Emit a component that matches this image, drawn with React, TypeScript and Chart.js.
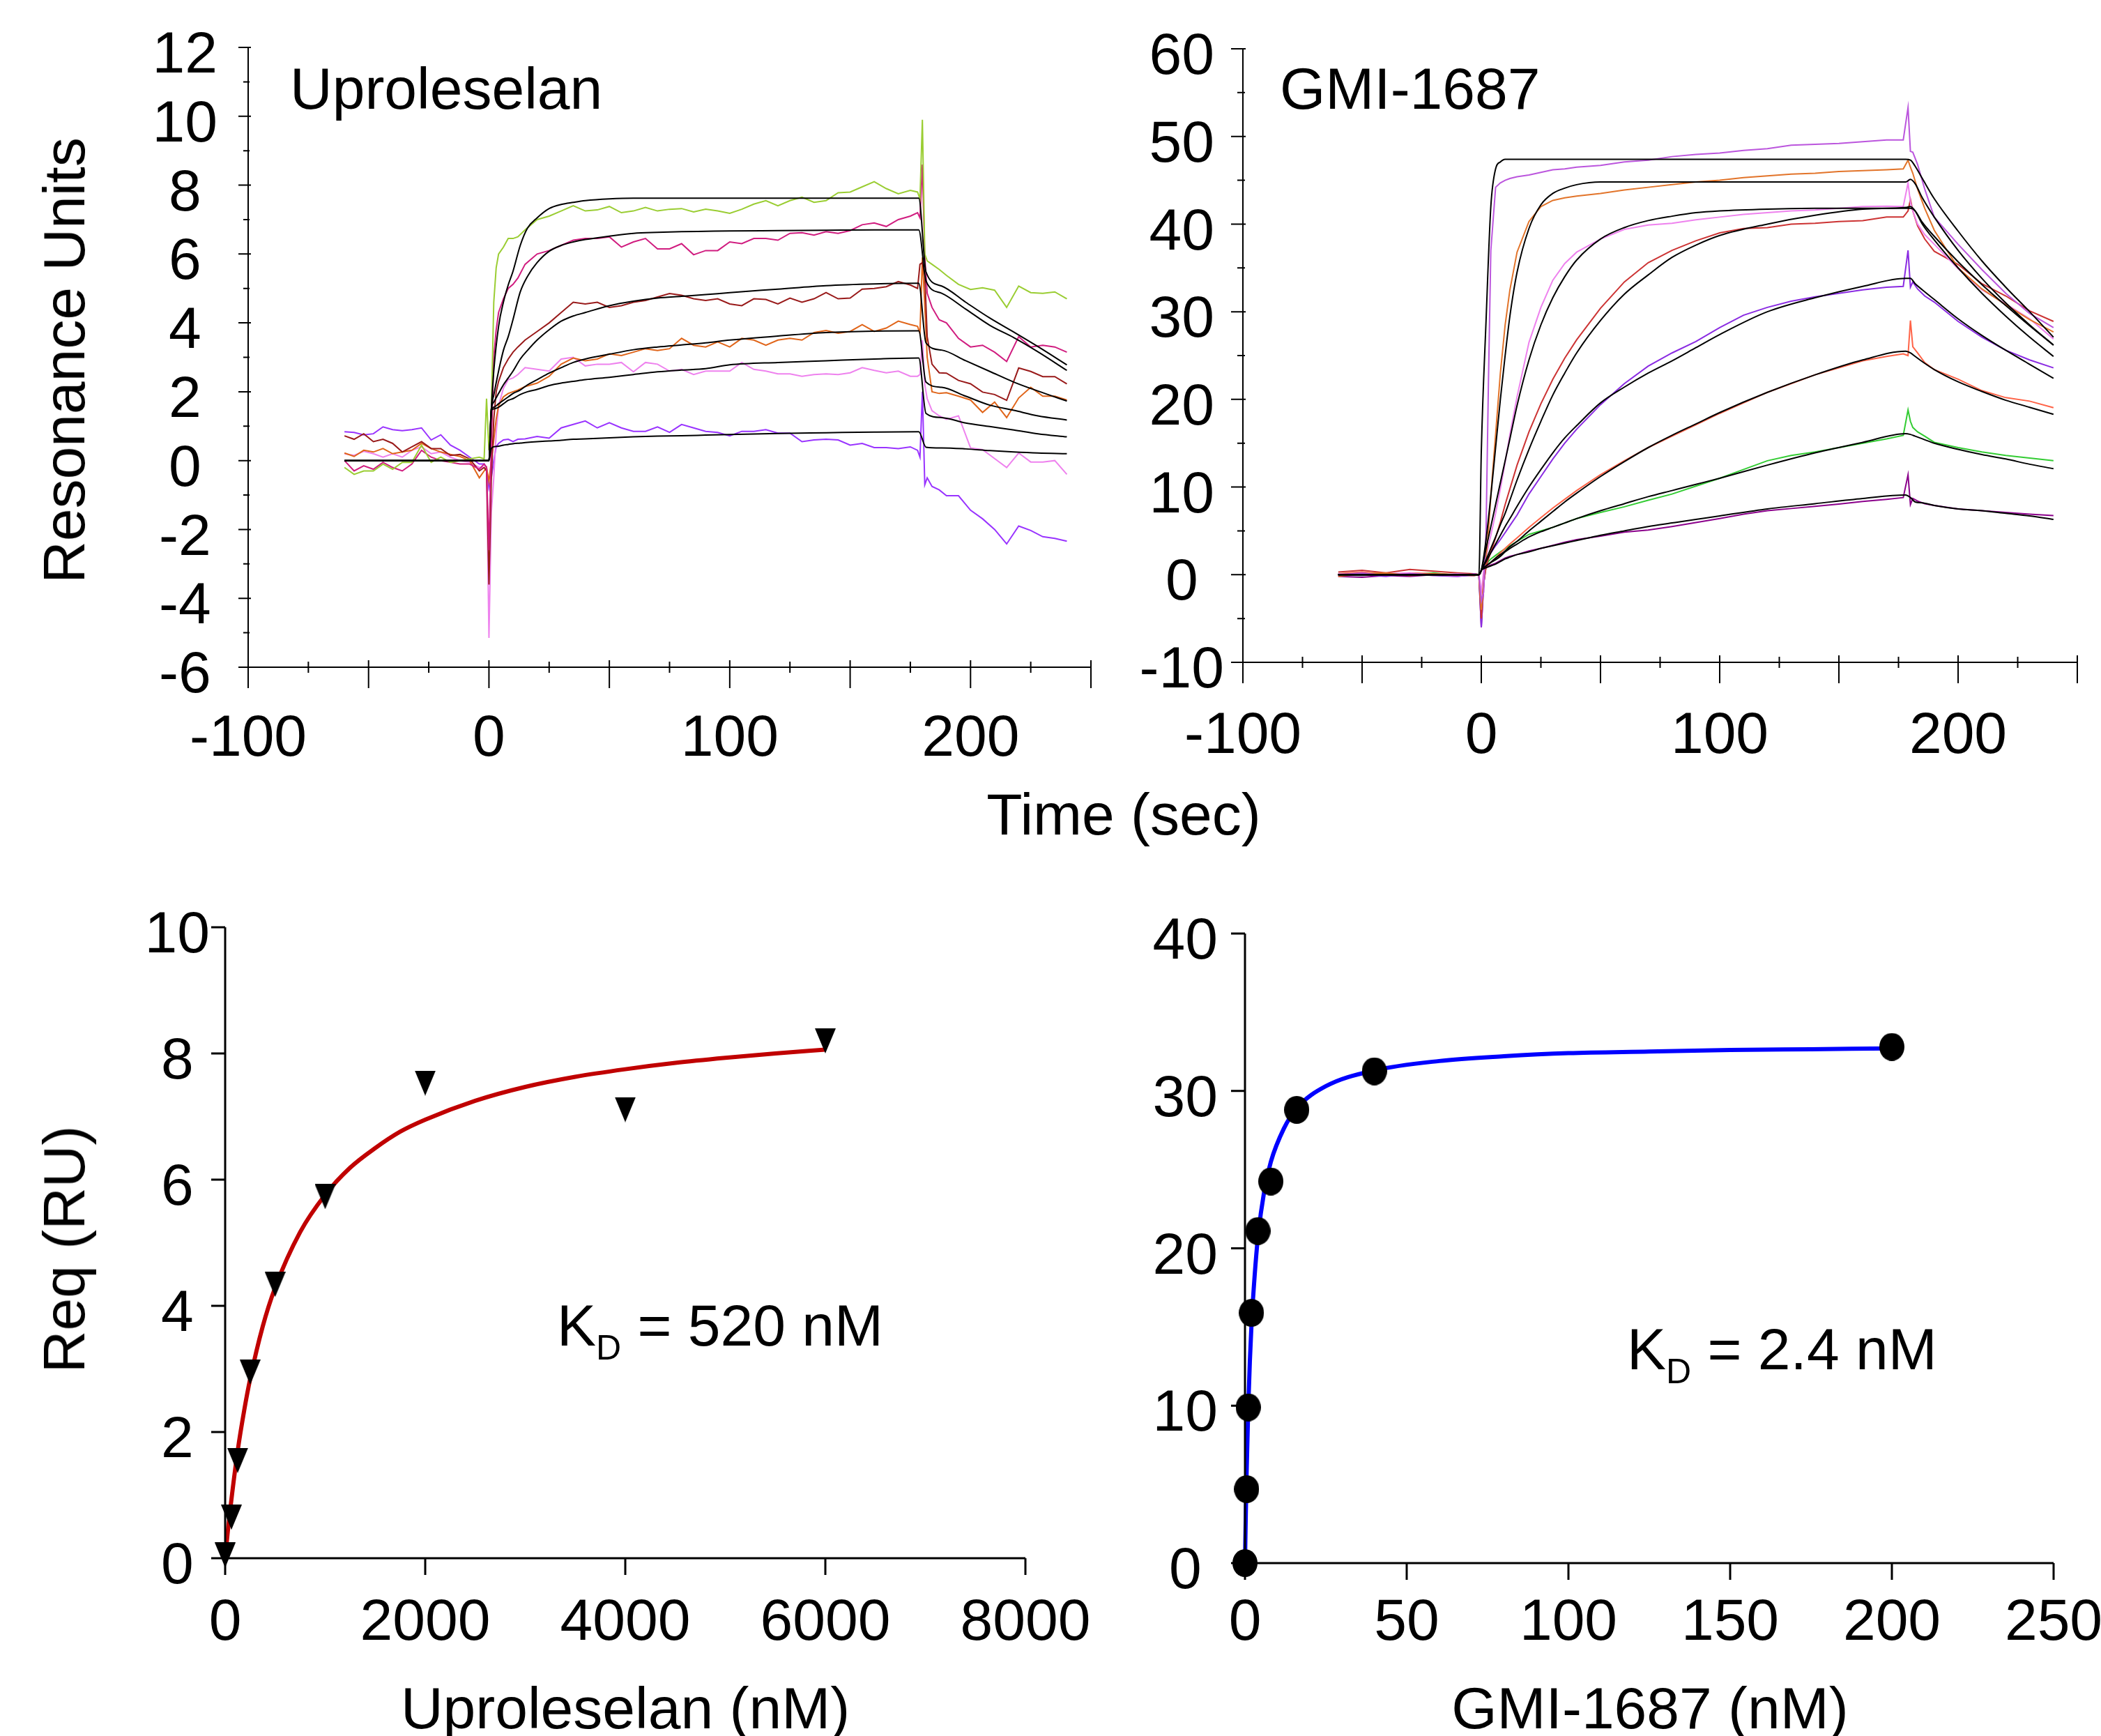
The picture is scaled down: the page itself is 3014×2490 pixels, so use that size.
import React, { useEffect, useRef } from 'react';
import { Chart, registerables } from 'chart.js';

Chart.register(...registerables);

const FONT = '"Liberation Sans", Arial, Helvetica, sans-serif';

// ---------------- Top-left: Uproleselan sensorgrams ----------------
const upTime = [-60, -56, -52, -48, -44, -40, -36, -32, -28, -24, -20, -16, -12, -8, -4,
  -2, -1, 0, 1, 2, 3, 4, 6, 8, 10, 12, 15,
  20, 25, 30, 35, 40, 45, 50, 55, 60, 65, 70, 75, 80, 85, 90, 95, 100, 105, 110, 115, 120, 125, 130, 135, 140, 145, 150, 155, 160, 165, 170, 175,
  178, 179, 180, 181, 182, 184, 187,
  190, 195, 200, 205, 210, 215, 220, 225, 230, 235, 240];

const upGreen = [-0.2, -0.4, -0.3, -0.3, -0.1, -0.25, -0.05, -0.05, 0.45, -0.05, 0.1, -0.05, 0.0, 0.05, 0.1,
  0.05, 1.8, 0.3, 1.5, 4.6, 5.6, 6.0, 6.2, 6.45, 6.45, 6.5, 6.7,
  7.0, 7.1, 7.25, 7.4, 7.25, 7.28, 7.38, 7.2, 7.25, 7.35, 7.25, 7.3, 7.32, 7.22, 7.3, 7.25, 7.18, 7.3, 7.45, 7.55, 7.4, 7.55, 7.65, 7.5, 7.55, 7.78, 7.8, 7.95, 8.1, 7.9, 7.75, 7.85,
  7.8, 7.6, 9.9, 6.0, 5.8, 5.7, 5.55,
  5.38, 5.12, 4.97, 5.02, 4.95, 4.45, 5.07, 4.88, 4.86, 4.9, 4.7];

const upMagenta = [0.0, -0.3, -0.15, -0.25, -0.05, -0.2, -0.3, -0.1, 0.3, 0.1, 0.0, -0.05, -0.1, -0.1, -0.25,
  -0.1, -0.2, -2.6, 0.5, 3.0, 3.8, 4.3, 4.7, 5.0, 5.12, 5.3, 5.7,
  6.0, 6.1, 6.25, 6.4, 6.45, 6.45, 6.5, 6.2, 6.35, 6.45, 6.15, 6.15, 6.3, 5.98, 6.1, 6.1, 6.35, 6.3, 6.45, 6.45, 6.4, 6.6, 6.62, 6.55, 6.65, 6.6, 6.68, 6.85, 6.9, 6.8, 7.0, 7.1,
  7.2, 7.05, 8.6, 5.9, 4.86, 4.45, 4.09,
  4.0, 3.55, 3.3, 3.35, 3.15, 2.88, 3.6, 3.3, 3.35, 3.3, 3.15];

const upDarkRed = [0.72, 0.62, 0.78, 0.55, 0.62, 0.5, 0.25, 0.4, 0.55, 0.35, 0.35, 0.15, 0.18, 0.05, -0.3,
  -0.2, -0.3, -3.6, -0.5, 1.2, 2.0, 2.3, 2.7, 2.95, 3.15, 3.3, 3.5,
  3.75, 4.0, 4.3, 4.6, 4.55, 4.6, 4.45, 4.5, 4.6, 4.65, 4.75, 4.85, 4.8, 4.7, 4.65, 4.7, 4.55, 4.5, 4.7, 4.68, 4.55, 4.72, 4.6, 4.7, 4.88, 4.7, 4.72, 4.98, 5.0, 5.05, 5.2, 5.1,
  5.0, 5.7, 5.75, 5.4, 3.6, 2.8, 2.55,
  2.54, 2.33, 2.23, 1.99, 1.92, 1.75, 2.69, 2.59, 2.44, 2.44, 2.23];

const upOrange = [0.22, 0.12, 0.3, 0.25, 0.35, 0.2, 0.25, 0.3, 0.5, 0.35, 0.25, 0.18, 0.12, 0.0, -0.5,
  -0.3, -0.2, -0.6, 0.0, 0.6, 1.2, 1.6, 1.85, 1.95, 2.0, 2.05, 2.15,
  2.25, 2.45, 2.8, 2.98, 2.9, 2.95, 3.1, 3.05, 3.15, 3.25, 3.2, 3.25, 3.55, 3.35, 3.3, 3.45, 3.3, 3.55, 3.5, 3.35, 3.5, 3.55, 3.5, 3.72, 3.78, 3.7, 3.75, 3.95, 3.75, 3.85, 4.05, 3.95,
  3.9, 3.7, 5.9, 4.5, 3.0, 2.0, 1.95,
  1.97, 1.87, 1.76, 1.4, 1.7, 1.25, 1.82, 2.13, 1.87, 1.87, 1.76];

const upPink = [0.2, 0.15, 0.27, 0.2, 0.1, 0.2, 0.1, 0.3, 0.4, 0.2, 0.25, 0.1, 0.0, -0.05, -0.2,
  -0.2, -0.3, -5.15, -1.5, -0.5, 0.8, 1.6, 2.1, 2.35, 2.4, 2.5, 2.7,
  2.65, 2.6, 2.95, 3.0, 2.75, 2.8, 2.8, 2.85, 2.58, 2.85, 2.8, 2.6, 2.65, 2.5, 2.6, 2.6, 2.6, 2.85, 2.65, 2.6, 2.52, 2.52, 2.45, 2.5, 2.52, 2.5, 2.55, 2.7, 2.62, 2.55, 2.6, 2.45,
  2.45, 2.5, 3.5, 2.2, 1.8, 1.45, 1.3,
  1.2, 1.3, 0.37, 0.32, 0.06, -0.2, 0.22, -0.04, -0.04, 0.0, -0.4];

const upPurple = [0.84, 0.82, 0.75, 0.78, 0.98, 0.9, 0.87, 0.9, 0.95, 0.6, 0.75, 0.45, 0.3, 0.1, -0.1,
  -0.1, -0.2, -0.8, -0.5, 0.0, 0.4, 0.5, 0.6, 0.62, 0.55, 0.62, 0.63,
  0.7, 0.65, 0.95, 1.05, 1.15, 0.95, 1.1, 0.95, 0.85, 0.85, 0.98, 0.82, 1.05, 0.95, 0.85, 0.82, 0.72, 0.85, 0.85, 0.9, 0.8, 0.8, 0.55, 0.6, 0.62, 0.6, 0.45, 0.5, 0.38, 0.38, 0.35, 0.4,
  0.3, 0.1, 2.0, -0.7, -0.5, -0.75, -0.85,
  -1.02, -1.02, -1.44, -1.69, -2.0, -2.42, -1.9, -2.03, -2.21, -2.26, -2.34];

const upFitTime = [-60, 0, 1, 2, 4, 6, 8, 10, 13, 16, 20, 25, 30, 35, 40, 50, 60, 70, 80, 90, 100, 120, 140, 160, 178.5, 181.5, 188, 198, 208, 218, 228, 240];
const upFit1 = [0, 0, 1.5, 2.6, 3.9, 4.6, 5.1, 5.5, 6.25, 6.75, 7.05, 7.32, 7.44, 7.5, 7.55, 7.6, 7.62, 7.62, 7.62, 7.62, 7.62, 7.62, 7.62, 7.62, 7.62, 5.48, 5.07, 4.6, 4.14, 3.73, 3.31, 2.78];
const upFit2 = [0, 0, 1.5, 1.9, 2.6, 3.2, 3.6, 4.1, 4.9, 5.35, 5.75, 6.08, 6.25, 6.35, 6.42, 6.52, 6.6, 6.63, 6.65, 6.66, 6.67, 6.68, 6.69, 6.7, 6.7, 5.22, 4.86, 4.4, 3.93, 3.57, 3.16, 2.62];
const upFit3 = [0, 0, 1.5, 1.7, 1.95, 2.2, 2.4, 2.6, 2.95, 3.2, 3.5, 3.8, 4.05, 4.2, 4.3, 4.5, 4.63, 4.72, 4.77, 4.82, 4.88, 4.98, 5.08, 5.13, 5.15, 3.42, 3.21, 2.9, 2.59, 2.28, 2.02, 1.73];
const upFit4 = [0, 0, 1.5, 1.55, 1.65, 1.75, 1.85, 1.95, 2.05, 2.2, 2.35, 2.54, 2.7, 2.85, 2.95, 3.09, 3.22, 3.3, 3.36, 3.42, 3.5, 3.62, 3.72, 3.76, 3.77, 2.28, 2.13, 1.87, 1.61, 1.46, 1.3, 1.18];
const upFit5 = [0, 0, 1.45, 1.5, 1.55, 1.65, 1.75, 1.8, 1.92, 2.0, 2.07, 2.18, 2.25, 2.3, 2.35, 2.42, 2.5, 2.58, 2.63, 2.67, 2.78, 2.85, 2.9, 2.95, 2.98, 1.37, 1.25, 1.09, 0.99, 0.89, 0.78, 0.69];
const upFit6 = [0, 0, 0.35, 0.4, 0.42, 0.45, 0.47, 0.49, 0.51, 0.53, 0.55, 0.57, 0.59, 0.62, 0.63, 0.66, 0.69, 0.71, 0.72, 0.74, 0.76, 0.79, 0.81, 0.83, 0.84, 0.39, 0.37, 0.34, 0.29, 0.25, 0.22, 0.2];

const upSeries = [upGreen, upMagenta, upDarkRed, upOrange, upPink, upPurple];
const upFits = [upFit1, upFit2, upFit3, upFit4, upFit5, upFit6];
const upColors = ['#9ACD32', '#D01C7F', '#991A1A', '#E0651A', '#EE82EE', '#9933FF'];

// ---------------- Top-right: GMI-1687 sensorgrams ----------------
const gmTime = [-60, -50, -40, -30, -20, -10, -3, -1, 0, 1,
  2, 3, 4, 6, 8, 10, 12, 15, 20, 25, 30, 35, 40,
  50, 60, 70, 80, 90, 100, 110, 120, 130, 140, 150, 160, 170,
  177, 179, 180, 181, 183, 186, 190, 200, 210, 220, 230, 240];

const gmOrchid = [0.0, 0.2, -0.1, 0.1, 0.0, -0.2, 0.1, 0.0, -3.0, -2.0,
  5.0, 22.0, 37.0, 44.2, 44.7, 45.0, 45.2, 45.4, 45.6, 45.9, 46.2, 46.3, 46.5,
  46.7, 47.1, 47.3, 47.7, 47.95, 48.1, 48.4, 48.6, 49.0, 49.1, 49.2, 49.4, 49.6,
  49.6, 53.3, 48.3, 48.2, 46.8, 44.0, 40.8, 37.7, 34.8, 32.1, 29.8, 28.2];
const gmOrange = [-0.2, 0.1, 0.2, -0.1, 0.1, 0.0, -0.1, 0.0, -4.0, -1.0,
  2.0, 5.0, 9.0, 16.0, 23.0, 28.5, 32.5, 36.8, 40.3, 42.0, 42.7, 43.0, 43.2,
  43.5, 43.9, 44.2, 44.5, 44.8, 45.0, 45.3, 45.5, 45.7, 45.8, 46.0, 46.1, 46.2,
  46.3, 47.3, 46.5, 45.8, 44.0, 41.8, 39.3, 35.0, 32.6, 30.8, 29.1, 27.7];
const gmViolet = [0.1, -0.1, 0.1, 0.2, -0.1, 0.1, 0.0, 0.0, -2.0, 0.5,
  2.0, 3.3, 4.5, 7.0, 9.8, 12.8, 16.0, 20.3, 26.5, 30.5, 33.6, 35.5, 36.8,
  38.3, 39.4, 39.9, 40.1, 40.5, 40.8, 41.1, 41.3, 41.5, 41.6, 41.8, 42.0, 42.05,
  42.0, 44.7, 42.5, 41.5, 40.0, 38.8, 37.7, 34.9, 32.5, 30.9, 29.2, 26.9];
const gmRed = [0.3, 0.5, 0.2, 0.6, 0.4, 0.2, 0.1, 0.0, -5.0, -1.0,
  1.0, 1.8, 2.6, 4.2, 6.0, 8.0, 9.8, 12.5, 16.3, 19.5, 22.3, 24.7, 26.8,
  30.4, 33.4, 35.6, 37.0, 38.1, 39.0, 39.5, 39.6, 40.0, 40.1, 40.3, 40.4, 40.8,
  40.8, 41.5, 42.8, 41.5, 39.8, 38.3, 36.9, 35.4, 33.2, 31.8, 30.1, 28.9];
const gmBlueViolet = [-0.1, 0.0, -0.2, 0.1, -0.1, -0.2, 0.0, 0.0, -6.0, -1.0,
  1.5, 2.0, 2.5, 3.3, 4.0, 4.8, 5.6, 6.8, 9.2, 11.2, 13.2, 15.0, 16.6,
  19.4, 21.8, 23.8, 25.3, 26.6, 28.2, 29.6, 30.5, 31.2, 31.7, 32.1, 32.5, 32.8,
  32.9, 37.0, 32.8, 33.4, 32.6, 31.8, 31.1, 28.9, 27.1, 25.6, 24.5, 23.6];
const gmTomato = [0.1, 0.3, 0.0, 0.2, 0.1, 0.0, 0.1, 0.0, -4.0, -0.5,
  0.9, 1.2, 1.4, 1.9, 2.5, 3.0, 3.5, 4.2, 5.4, 6.5, 7.6, 8.6, 9.6,
  11.4, 13.0, 14.5, 15.8, 17.1, 18.4, 19.6, 20.8, 21.8, 22.8, 23.6, 24.4, 24.9,
  25.2, 25.0, 29.0, 26.0, 25.3, 24.2, 23.4, 22.3, 21.0, 20.2, 19.8, 19.05];
const gmGreen = [0.0, -0.1, 0.1, 0.0, 0.2, -0.1, 0.0, 0.0, -5.0, -0.5,
  1.2, 1.5, 1.8, 2.2, 2.6, 2.95, 3.3, 3.8, 4.6, 5.0, 5.4, 5.9, 6.4,
  7.1, 7.75, 8.5, 9.2, 10.1, 11.0, 12.0, 13.0, 13.6, 14.0, 14.5, 15.0, 15.5,
  15.9, 18.8, 17.5, 16.8, 16.3, 15.8, 15.1, 14.5, 14.0, 13.6, 13.3, 13.0];
const gmDarkMagenta = [-0.2, -0.3, -0.1, -0.2, 0.0, -0.1, -0.1, 0.0, -6.0, -1.0,
  0.9, 1.0, 1.1, 1.3, 1.6, 1.9, 2.1, 2.3, 2.7, 3.0, 3.35, 3.7, 4.0,
  4.4, 4.85, 5.1, 5.5, 5.95, 6.4, 6.9, 7.3, 7.55, 7.8, 8.05, 8.35, 8.6,
  8.8, 11.4, 8.0, 8.7, 8.4, 8.1, 7.9, 7.5, 7.3, 7.1, 6.9, 6.75];

const gmFitTime = [-60, -1, 0, 2, 4, 6, 8, 10, 12, 15, 20, 25, 30, 35, 40, 50, 60, 70, 80, 90, 100, 120, 140, 160, 178, 180, 182, 185, 190, 200, 210, 220, 230, 240];
const gmFit1 = [0, 0, 14, 29, 42, 46.3, 47.1, 47.4, 47.4, 47.4, 47.4, 47.4, 47.4, 47.4, 47.4, 47.4, 47.4, 47.4, 47.4, 47.4, 47.4, 47.4, 47.4, 47.4, 47.4, 47.3, 46.6, 45.2, 42.9, 39.2, 35.8, 32.8, 30.0, 27.1];
const gmFit2 = [0, 0, 0.5, 4, 9, 14.5, 20, 25, 29.5, 34.5, 39.5, 42.2, 43.5, 44.1, 44.5, 44.8, 44.8, 44.8, 44.8, 44.8, 44.8, 44.8, 44.8, 44.8, 44.8, 45.1, 44.6, 43.0, 40.8, 37.0, 33.8, 31.0, 28.5, 26.2];
const gmFit3 = [0, 0, 0.5, 3.0, 5.5, 8.0, 10.5, 13.0, 15.5, 19.3, 24.5, 28.5, 31.6, 34.0, 35.9, 38.3, 39.6, 40.4, 40.9, 41.3, 41.5, 41.7, 41.8, 41.8, 41.8, 41.8, 41.5, 40.2, 38.6, 35.7, 33.1, 30.7, 28.4, 26.2];
const gmFit4 = [0, 0, 0.5, 1.7, 3.0, 4.3, 5.7, 7.0, 8.5, 10.8, 14.3, 17.5, 20.5, 23.0, 25.3, 29.0, 32.0, 34.2, 36.2, 37.6, 38.7, 40.0, 41.0, 41.7, 41.9, 42.0, 41.5, 40.0, 38.2, 35.0, 32.1, 29.5, 27.1, 24.9];
const gmFit5 = [0, 0, 0.5, 1.5, 2.5, 3.5, 4.5, 5.5, 6.4, 7.8, 10.0, 12.0, 13.9, 15.6, 17.0, 19.6, 21.4, 23.0, 24.4, 25.9, 27.4, 30.0, 31.6, 32.9, 33.8, 33.8, 33.2, 32.5, 31.4, 29.2, 27.3, 25.6, 24.0, 22.4];
const gmFit6 = [0, 0, 0.5, 1.0, 1.4, 1.9, 2.3, 2.7, 3.2, 3.8, 5.0, 6.1, 7.2, 8.3, 9.3, 11.2, 12.9, 14.5, 15.9, 17.2, 18.5, 20.8, 22.8, 24.5, 25.5, 25.3, 24.9, 24.3, 23.4, 22.0, 20.9, 19.9, 19.1, 18.3];
const gmFit7 = [0, 0, 0.5, 1.0, 1.4, 1.7, 2.1, 2.6, 3.0, 3.5, 4.3, 4.9, 5.4, 5.9, 6.4, 7.3, 8.1, 8.9, 9.6, 10.3, 11.0, 12.5, 13.9, 15.1, 16.1, 16.0, 15.8, 15.5, 15.0, 14.3, 13.7, 13.2, 12.6, 12.1];
const gmFit8 = [0, 0, 0.5, 0.8, 1.0, 1.2, 1.5, 1.8, 2.0, 2.3, 2.6, 3.0, 3.3, 3.6, 3.9, 4.5, 5.0, 5.5, 5.9, 6.3, 6.7, 7.5, 8.1, 8.7, 9.1, 8.8, 8.3, 8.2, 7.9, 7.5, 7.3, 7.0, 6.7, 6.3];

const gmSeries = [gmOrchid, gmOrange, gmViolet, gmRed, gmBlueViolet, gmTomato, gmGreen, gmDarkMagenta];
const gmFits = [gmFit1, gmFit2, gmFit3, gmFit4, gmFit5, gmFit6, gmFit7, gmFit8];
const gmColors = ['#BB55DD', '#E2742A', '#EE82EE', '#CC3333', '#8A2BE2', '#FF6347', '#33CC33', '#8B008B'];

// ---------------- Bottom-left: Uproleselan steady state ----------------
const upConc = [0, 62.5, 125, 250, 500, 1000, 2000, 4000, 6000];
const upReq = [0.05, 0.65, 1.55, 2.95, 4.34, 5.73, 7.53, 7.11, 8.2];
const upCurveConc = [0, 30, 62.5, 125, 190, 250, 375, 500, 750, 1000, 1250, 1500, 1750, 2000, 2500, 3000, 3500, 4000, 4500, 5000, 5500, 6000];
const upCurveReq = [0, 0.48, 0.93, 1.7, 2.34, 2.84, 3.67, 4.29, 5.17, 5.76, 6.19, 6.5, 6.76, 6.95, 7.25, 7.47, 7.63, 7.75, 7.85, 7.93, 8.0, 8.06];

// ---------------- Bottom-right: GMI-1687 steady state ----------------
const gmConc = [0, 0.5, 1, 2, 4, 8, 16, 40, 200];
const gmReq = [0, 4.7, 9.9, 15.9, 21.1, 24.25, 28.8, 31.25, 32.8];
const gmCurveConc = [0, 0.25, 0.5, 1, 1.5, 2, 3, 4, 6, 8, 12, 16, 25, 40, 60, 80, 100, 125, 150, 175, 200];
const gmCurveReq = [0, 3.1, 5.7, 9.8, 12.8, 15.1, 18.3, 20.7, 23.7, 25.5, 27.6, 28.9, 30.3, 31.3, 31.9, 32.2, 32.4, 32.5, 32.6, 32.65, 32.7];

// ---------------- helpers ----------------
type XY = { x: number; y: number };
const pts = (xs: number[], ys: number[]): XY[] => xs.map((x, i) => ({ x, y: ys[i] }));
const range = (a: number, b: number, s: number): number[] => {
  const r: number[] = [];
  for (let v = a; v <= b + 1e-9; v += s) r.push(Math.round(v * 1000) / 1000);
  return r;
};

interface TickGroup { values: number[]; out: number; inn: number }
interface AxisSpec { lw: number; x: TickGroup[]; y: TickGroup[] }

function axisPlugin(spec: AxisSpec) {
  return {
    id: 'axisTicks',
    afterDraw(chart: any) {
      const { ctx, chartArea: ca, scales } = chart;
      const xs = scales.x;
      const ys = scales.y;
      ctx.save();
      ctx.strokeStyle = '#000';
      ctx.lineWidth = spec.lw;
      ctx.lineCap = 'butt';
      ctx.beginPath();
      ctx.moveTo(ca.left - spec.lw / 2, ca.bottom);
      ctx.lineTo(ca.right, ca.bottom);
      ctx.moveTo(ca.left, ca.top);
      ctx.lineTo(ca.left, ca.bottom + spec.lw / 2);
      for (const g of spec.x) {
        for (const v of g.values) {
          const p = xs.getPixelForValue(v);
          ctx.moveTo(p, ca.bottom - g.inn);
          ctx.lineTo(p, ca.bottom + g.out);
        }
      }
      for (const g of spec.y) {
        for (const v of g.values) {
          const p = ys.getPixelForValue(v);
          ctx.moveTo(ca.left - g.out, p);
          ctx.lineTo(ca.left + g.inn, p);
        }
      }
      ctx.stroke();
      ctx.restore();
    },
  };
}

// y labels: centred across the axis and nudged down slightly (second line of a two-line label)
const Y_LABEL_NUDGE = 26 / 84;

function linScale(axis: 'x' | 'y', min: number, max: number, step: number, pad: number, size: number, labelIf?: (v: number) => boolean) {
  const isY = axis === 'y';
  return {
    type: 'linear',
    min,
    max,
    bounds: 'data',
    grid: { display: false, drawTicks: false },
    border: { display: false },
    ticks: {
      stepSize: step,
      autoSkip: false,
      maxRotation: 0,
      minRotation: 0,
      padding: pad,
      color: '#000',
      crossAlign: isY ? 'center' : 'near',
      font: { family: FONT, size: 84, lineHeight: isY ? Y_LABEL_NUDGE : 1 },
      callback: (v: any) => {
        const s = labelIf && !labelIf(Number(v)) ? '' : String(v);
        return isY ? ['', s] : s;
      },
    },
    afterFit: (s: any) => {
      if (axis === 'x') s.height = size;
      else s.width = size;
      s.paddingLeft = 0;
      s.paddingRight = 0;
      s.paddingTop = 0;
      s.paddingBottom = 0;
    },
  };
}

function baseOptions(padding: any, xScale: any, yScale: any) {
  return {
    responsive: false,
    animation: false,
    devicePixelRatio: 1,
    events: [],
    layout: { padding },
    plugins: { legend: { display: false }, tooltip: { enabled: false } },
    scales: { x: xScale, y: yScale },
  };
}

const lineDs = (data: XY[], color: string, width: number, smooth: boolean) => ({
  data,
  borderColor: color,
  backgroundColor: color,
  borderWidth: width,
  pointRadius: 0,
  showLine: true,
  fill: false,
  tension: 0,
  cubicInterpolationMode: smooth ? 'monotone' : 'default',
});

const hundreds = (v: number) => Math.abs(v % 100) < 1e-9;

function buildUpKinetics(): any {
  const datasets: any[] = [];
  upFits.forEach((f) => datasets.push(lineDs(pts(upFitTime, f), '#000000', 2, true)));
  upSeries.forEach((s, i) => datasets.push(lineDs(pts(upTime, s), upColors[i], 2, false)));
  return {
    type: 'scatter',
    data: { datasets },
    options: baseOptions({ top: 68, right: 35, left: 0, bottom: 0 },
      linScale('x', -100, 250, 100, 62, 173, hundreds),
      linScale('y', -6, 12, 2, 44, 356)),
    plugins: [axisPlugin({
      lw: 2,
      x: [{ values: range(-100, 250, 50), out: 30, inn: 10 }, { values: range(-75, 225, 50), out: 8, inn: 8 }],
      y: [{ values: range(-6, 12, 2), out: 14, inn: 4 }, { values: range(-5, 11, 2), out: 7, inn: 2 }],
    })],
  };
}

function buildGmKinetics(): any {
  const datasets: any[] = [];
  gmFits.forEach((f) => datasets.push(lineDs(pts(gmFitTime, f), '#000000', 2, true)));
  gmSeries.forEach((s, i) => datasets.push(lineDs(pts(gmTime, s), gmColors[i], 2, false)));
  return {
    type: 'scatter',
    data: { datasets },
    options: baseOptions({ top: 70, right: 34, left: 0, bottom: 0 },
      linScale('x', -100, 250, 100, 65, 180, hundreds),
      linScale('y', -10, 60, 10, 27, 183)),
    plugins: [axisPlugin({
      lw: 2,
      x: [{ values: range(-100, 250, 50), out: 30, inn: 10 }, { values: range(-75, 225, 50), out: 8, inn: 8 }],
      y: [{ values: range(-10, 60, 10), out: 17, inn: 4 }, { values: range(-5, 55, 10), out: 8, inn: 3 }],
    })],
  };
}

function markerImage(kind: 'triangle' | 'dot'): HTMLCanvasElement {
  const c = document.createElement('canvas');
  const g = c.getContext('2d')!;
  if (kind === 'triangle') {
    c.width = 30; c.height = 36;
    g.fillStyle = '#000';
    g.beginPath(); g.moveTo(0, 0); g.lineTo(30, 0); g.lineTo(15, 36); g.closePath(); g.fill();
  } else {
    c.width = 36; c.height = 40;
    g.fillStyle = '#000';
    g.beginPath(); g.ellipse(18, 20, 18, 20, 0, 0, Math.PI * 2); g.fill();
  }
  return c;
}

function buildUpSteady(): any {
  return {
    type: 'scatter',
    data: {
      datasets: [
        { data: pts(upConc, upReq), pointStyle: markerImage('triangle'), pointRadius: 18, showLine: false, clip: false },
        { ...lineDs(pts(upCurveConc, upCurveReq), '#C00000', 6, true), clip: false },
      ],
    },
    options: baseOptions({ top: 130, right: 129, left: 0, bottom: 0 },
      linScale('x', 0, 8000, 2000, 52, 255),
      linScale('y', 0, 10, 2, 22, 323)),
    plugins: [axisPlugin({
      lw: 3,
      x: [{ values: range(0, 8000, 2000), out: 24, inn: 0 }],
      y: [{ values: range(0, 10, 2), out: 20, inn: 0 }],
    })],
  };
}

function buildGmSteady(): any {
  return {
    type: 'scatter',
    data: {
      datasets: [
        { data: pts(gmConc, gmReq), pointStyle: markerImage('dot'), pointRadius: 18, showLine: false, clip: false },
        { ...lineDs(pts(gmCurveConc, gmCurveReq), '#0000FF', 6, true), clip: false },
      ],
    },
    options: baseOptions({ top: 139, right: 74, left: 0, bottom: 0 },
      linScale('x', 0, 250, 50, 45, 248),
      linScale('y', 0, 40, 10, 39, 186)),
    plugins: [axisPlugin({
      lw: 3,
      x: [{ values: range(0, 250, 50), out: 24, inn: 0 }],
      y: [{ values: range(0, 40, 10), out: 20, inn: 0 }],
    })],
  };
}

function ChartCanvas(props: { left: number; top: number; width: number; height: number; build: () => any }) {
  const ref = useRef<HTMLCanvasElement>(null);
  useEffect(() => {
    const chart = new Chart(ref.current as HTMLCanvasElement, props.build());
    return () => chart.destroy();
  }, []);
  return (
    <canvas
      ref={ref}
      width={props.width}
      height={props.height}
      style={{ position: 'absolute', left: props.left, top: props.top, width: props.width, height: props.height }}
    />
  );
}

const textBase: React.CSSProperties = {
  position: 'absolute',
  fontFamily: FONT,
  fontSize: 84,
  lineHeight: '84px',
  color: '#000',
  whiteSpace: 'nowrap',
};

function CText(props: { x: number; y: number; rotate?: boolean; children: React.ReactNode }) {
  return (
    <div style={{ ...textBase, left: props.x, top: props.y, transform: `translate(-50%, -50%)${props.rotate ? ' rotate(-90deg)' : ''}` }}>
      {props.children}
    </div>
  );
}

function LText(props: { x: number; y: number; children: React.ReactNode }) {
  return <div style={{ ...textBase, left: props.x, top: props.y - 41 }}>{props.children}</div>;
}

const sub: React.CSSProperties = { fontSize: 50, lineHeight: '50px', verticalAlign: -20 };

export default function App() {
  return (
    <div style={{ position: 'absolute', left: 0, top: 0, width: 3014, height: 2490, overflow: 'hidden', background: '#fff' }}>
      <ChartCanvas left={0} top={0} width={1600} height={1130} build={buildUpKinetics} />
      <ChartCanvas left={1600} top={0} width={1414} height={1130} build={buildGmKinetics} />
      <ChartCanvas left={0} top={1200} width={1600} height={1290} build={buildUpSteady} />
      <ChartCanvas left={1600} top={1200} width={1420} height={1290} build={buildGmSteady} />

      <CText x={92} y={517} rotate>Resonance Units</CText>
      <CText x={1612} y={1168}>Time (sec)</CText>
      <LText x={416} y={126}>Uproleselan</LText>
      <LText x={1836} y={126}>GMI-1687</LText>

      <CText x={92} y={1792} rotate>Req (RU)</CText>
      <CText x={897} y={2450}>Uproleselan (nM)</CText>
      <CText x={2367} y={2450}>GMI-1687 (nM)</CText>
      <LText x={799} y={1900}>K<span style={sub}>D</span> = 520 nM</LText>
      <LText x={2334} y={1934}>K<span style={sub}>D</span> = 2.4 nM</LText>
    </div>
  );
}
